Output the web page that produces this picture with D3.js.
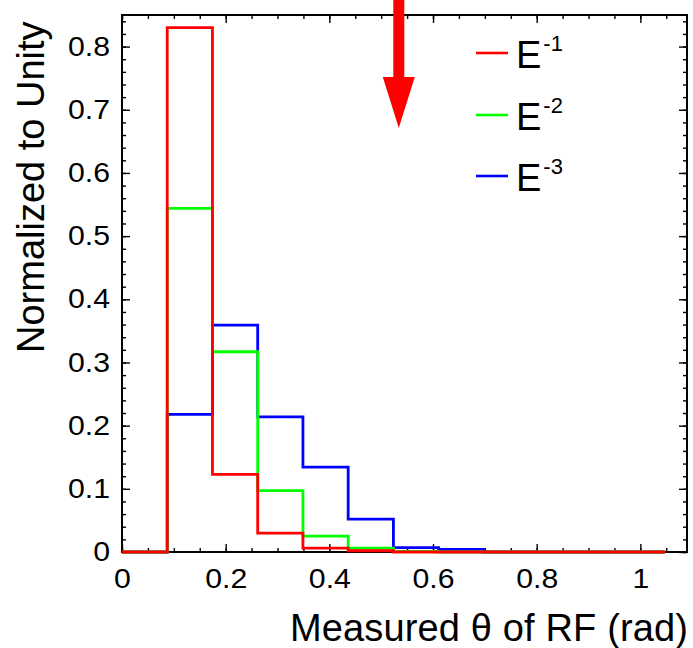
<!DOCTYPE html>
<html><head><meta charset="utf-8">
<script src="https://cdn.jsdelivr.net/npm/d3@7"></script>
<style>
body{margin:0;background:#fff}
svg{display:block}
text{font-family:"Liberation Sans",Arial,Helvetica,sans-serif;fill:#000}
</style>
</head><body>
<svg id="chart" width="693" height="648"></svg>
<script>
// ---- data ----
const binEdgesDeg = [0,5,10,15,20,25,30,35,40,45,50,55,60];
const seriesNames = ["E-1","E-2","E-3"];
const valuesE1 = [0, 0.830, 0.123, 0.030, 0.006, 0.002, 0, 0, 0, 0, 0, 0];
const valuesE2 = [0, 0.544, 0.317, 0.097, 0.025, 0.006, 0.001, 0, 0, 0, 0, 0];
const valuesE3 = [0, 0.218, 0.359, 0.214, 0.1345, 0.052, 0.007, 0.004, 0, 0, 0, 0];
const xTickLabels = [0, 0.2, 0.4, 0.6, 0.8, 1];
const yTickLabels = [0, 0.1, 0.2, 0.3, 0.4, 0.5, 0.6, 0.7, 0.8];
const arrowX = 0.534, arrowTip = 0.671, arrowHeadBase = 0.752, arrowTop = 0.875;

const colors = {"E-1":"#ff0000","E-2":"#00ff00","E-3":"#0000ff"};
const seriesData = {"E-1":valuesE1,"E-2":valuesE2,"E-3":valuesE3};
const edges = binEdgesDeg.map(d => d*Math.PI/180);

const svg = d3.select("#chart");
const m = {l:122, r:687, t:15, b:552};
const x = d3.scaleLinear().domain([0,1.09]).range([m.l,m.r]);
const y = d3.scaleLinear().domain([0,0.85]).range([m.b,m.t]);

const fmt = d3.format("~g");
const xMinor = d3.range(0, 1.0901, 0.05).map(v => +v.toFixed(3));
const yMinor = d3.range(0, 0.8501, 0.02).map(v => +v.toFixed(3));

function styleAxis(g){
  g.select(".domain").remove();
  g.selectAll("line").attr("stroke","#000").attr("stroke-width",1.4);
}
function stretch(g, f){
  g.selectAll("text").each(function(){
    const w = this.getComputedTextLength();
    d3.select(this).attr("textLength", w*f).attr("lengthAdjust","spacingAndGlyphs");
  });
}
// minor ticks
svg.append("g").attr("transform",`translate(0,${m.b})`).call(d3.axisBottom(x).tickValues(xMinor).tickSize(-4).tickFormat("")).call(styleAxis);
svg.append("g").attr("transform",`translate(0,${m.t})`).call(d3.axisTop(x).tickValues(xMinor).tickSize(-4).tickFormat("")).call(styleAxis);
svg.append("g").attr("transform",`translate(${m.l},0)`).call(d3.axisLeft(y).tickValues(yMinor).tickSize(-4).tickFormat("")).call(styleAxis);
svg.append("g").attr("transform",`translate(${m.r},0)`).call(d3.axisRight(y).tickValues(yMinor).tickSize(-4).tickFormat("")).call(styleAxis);
// major ticks
const gx = svg.append("g").attr("transform",`translate(0,${m.b})`)
  .call(d3.axisBottom(x).tickValues(xTickLabels).tickSize(-8).tickPadding(17).tickFormat(fmt)).call(styleAxis);
gx.selectAll("text").attr("font-size",27).attr("font-family",null);
stretch(gx, 1.12);
svg.append("g").attr("transform",`translate(0,${m.t})`).call(d3.axisTop(x).tickValues(xTickLabels).tickSize(-8).tickFormat("")).call(styleAxis);
const gy = svg.append("g").attr("transform",`translate(${m.l},0)`)
  .call(d3.axisLeft(y).tickValues(yTickLabels).tickSize(-8).tickPadding(12).tickFormat(fmt)).call(styleAxis);
gy.selectAll("text").attr("font-size",27).attr("font-family",null);
stretch(gy, 1.12);
svg.append("g").attr("transform",`translate(${m.r},0)`).call(d3.axisRight(y).tickValues(yTickLabels).tickSize(-8).tickFormat("")).call(styleAxis);

// frame
svg.append("rect").attr("x",m.l).attr("y",m.t).attr("width",m.r-m.l).attr("height",m.b-m.t)
  .attr("fill","none").attr("stroke","#000").attr("stroke-width",2);

// histograms
const line = d3.line().x(d => x(d[0])).y(d => y(d[1]));
["E-3","E-2","E-1"].forEach(name => {
  const vals = seriesData[name];
  const pts = [[edges[0],0]];
  vals.forEach((v,i) => { pts.push([edges[i],v]); pts.push([edges[i+1],v]); });
  pts.push([edges[edges.length-1],0]);
  svg.append("path").attr("d",line(pts)).attr("fill","none")
    .attr("stroke",colors[name]).attr("stroke-width",2.8).attr("stroke-linejoin","miter");
});

// legend
const legendY = [53, 115, 176];
seriesNames.forEach((name,i) => {
  svg.append("line").attr("x1",476).attr("x2",508).attr("y1",legendY[i]).attr("y2",legendY[i])
    .attr("stroke",colors[name]).attr("stroke-width",2.6);
  const t = svg.append("text").attr("x",516).attr("y",legendY[i]+14.5).attr("font-size",38).text("E");
  t.append("tspan").attr("dx",2).attr("dy",-17).attr("font-size",22).text(name.slice(1));
});

// arrow
const ax = x(arrowX);
const arrowPath = d3.path();
arrowPath.moveTo(ax-5.5, y(arrowTop));
arrowPath.lineTo(ax+5.5, y(arrowTop));
arrowPath.lineTo(ax+5.5, y(arrowHeadBase));
arrowPath.lineTo(ax+16, y(arrowHeadBase));
arrowPath.lineTo(ax, y(arrowTip));
arrowPath.lineTo(ax-16, y(arrowHeadBase));
arrowPath.lineTo(ax-5.5, y(arrowHeadBase));
arrowPath.closePath();
svg.append("path").attr("d",arrowPath.toString()).attr("fill","#ff0000");

// axis titles
svg.append("text").attr("x",688).attr("y",641).attr("text-anchor","end").attr("font-size",38)
  .attr("textLength",398).attr("lengthAdjust","spacing")
  .text("Measured θ of RF (rad)");
svg.append("text").attr("transform","translate(44,353) rotate(-90)").attr("font-size",38)
  .text("Normalized to Unity");
</script>
</body></html>
